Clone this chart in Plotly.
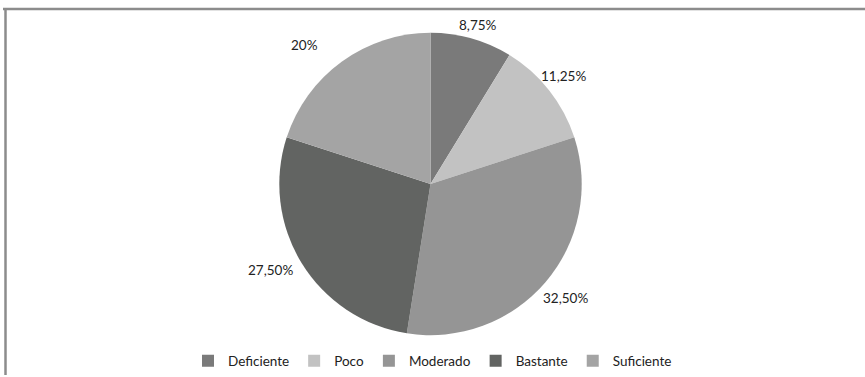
import math
import plotly.graph_objects as go

categories = ["Deficiente", "Poco", "Moderado", "Bastante", "Suficiente"]
percentages = [8.75, 11.25, 32.50, 27.50, 20.0]
slice_colors = ["#7a7a7a", "#c2c2c2", "#959595", "#626462", "#a4a4a4"]

# label placement outside the pie: distance from centre (px) and angular nudge (deg)
label_dist = [167, 172, 177, 182, 188]
label_nudge = [0.75, -1.0, 0.0, 3.0, -6.0]


def fmt_pct(v):
    # Spanish decimal comma; whole numbers without decimals
    if float(v).is_integer():
        return f"{int(v)}%"
    return f"{v:.2f}".replace(".", ",") + "%"


W, H = 865, 377
cx, cy, r = 430.5, 185, 152
FONT = "Lato, 'Open Sans', sans-serif"

fig = go.Figure(
    go.Pie(
        labels=categories,
        values=percentages,
        textinfo="none",
        sort=False,
        direction="clockwise",
        rotation=0,
        marker=dict(colors=slice_colors, line=dict(color="white", width=0)),
        domain=dict(x=[(cx - r) / W, (cx + r) / W], y=[1 - (cy + r) / H, 1 - (cy - r) / H]),
        hoverinfo="label+percent",
    )
)

# percentage labels at each slice's mid-angle (clockwise from 12 o'clock)
total = sum(percentages)
annotations = []
cum = 0.0
for v, d, nudge in zip(percentages, label_dist, label_nudge):
    mid = (cum + v / 2) / total * 360 + nudge
    cum += v
    t = math.radians(mid)
    px = cx + d * math.sin(t)
    py = cy - d * math.cos(t)
    annotations.append(
        dict(
            x=px / W, y=1 - py / H, xref="paper", yref="paper",
            text=fmt_pct(v), showarrow=False, xanchor="center", yanchor="middle",
            font=dict(family=FONT, size=13.5, color="#222222"),
        )
    )

fig.update_layout(
    width=W,
    height=H,
    margin=dict(l=0, r=0, t=0, b=0),
    paper_bgcolor="white",
    plot_bgcolor="white",
    showlegend=True,
    annotations=annotations,
    legend=dict(
        orientation="h",
        x=0.5,
        xanchor="center",
        y=(H - 363) / H,
        yanchor="middle",
        font=dict(family=FONT, size=13.5, color="#222222"),
        itemwidth=30,
        tracegroupgap=0,
    ),
    shapes=[
        dict(type="line", xref="paper", yref="paper", x0=3 / W, x1=1, y0=1 - 9 / H, y1=1 - 9 / H,
             line=dict(color="#8c8c8c", width=2.5)),
        dict(type="line", xref="paper", yref="paper", x0=5.5 / W, x1=5.5 / W, y0=0, y1=1 - 9 / H,
             line=dict(color="#8c8c8c", width=2.5)),
    ],
)

fig.write_html("out.html")
